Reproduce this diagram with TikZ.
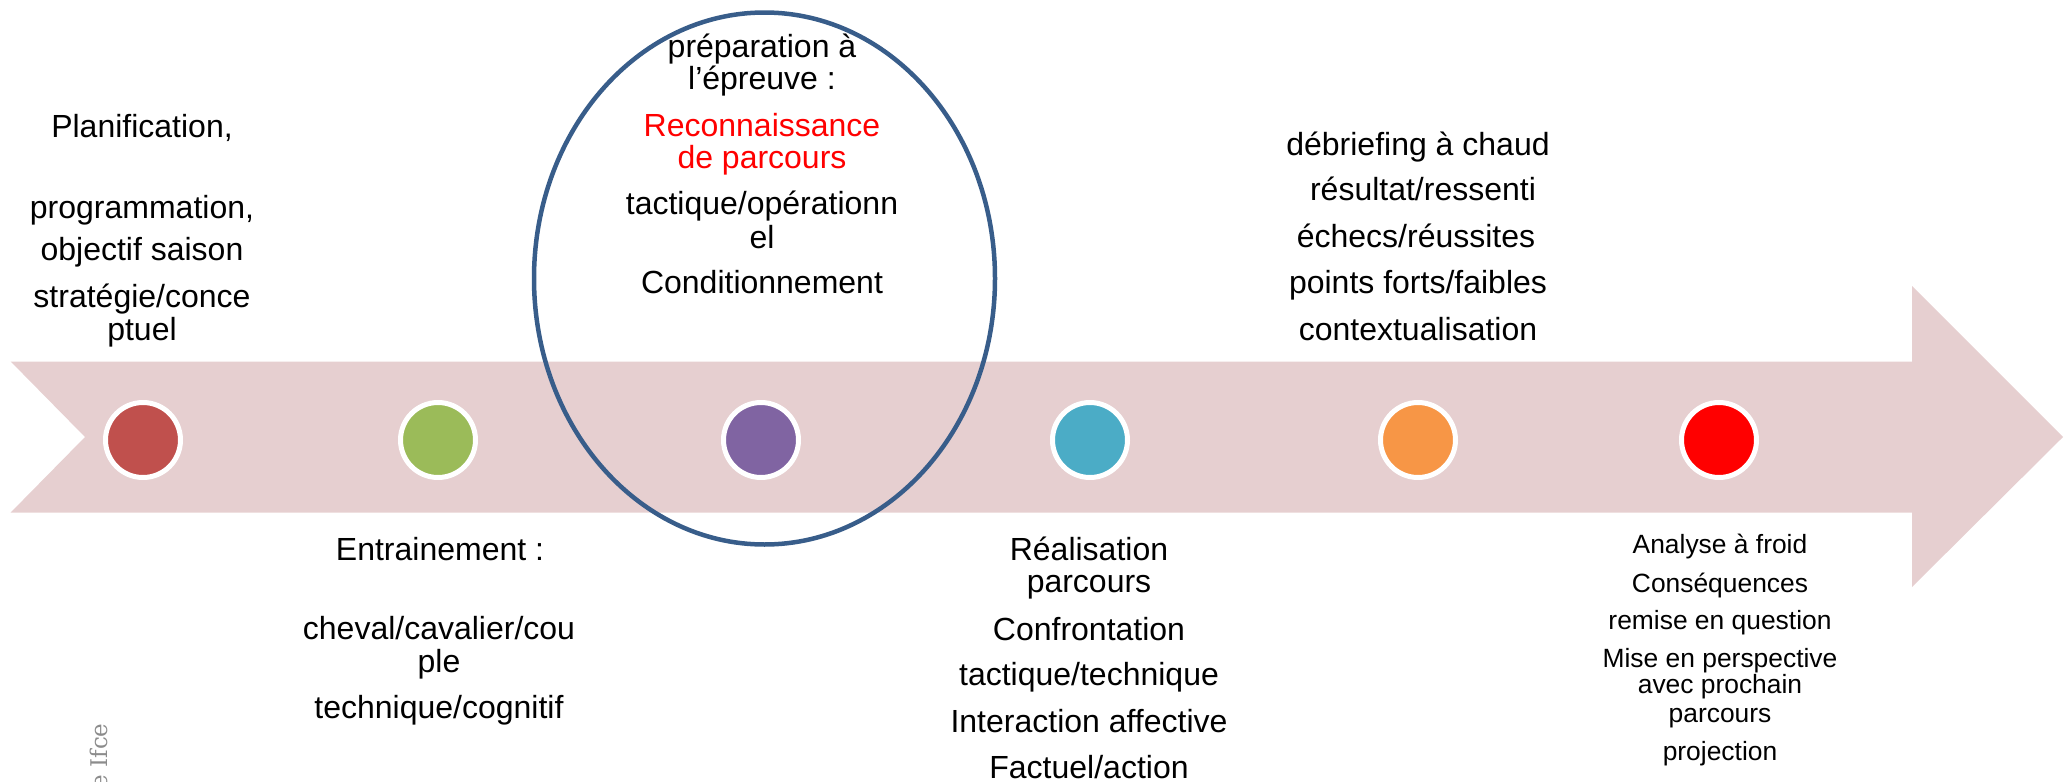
\documentclass[tikz,border=0pt]{standalone}
\usepackage{fontspec}
\setmainfont{Liberation Sans}
\newfontfamily\ifcefont{DejaVu Serif}
\usetikzlibrary{shapes.geometric}
\definecolor{bandc}{RGB}{230,207,208}
\definecolor{ellc}{RGB}{56,93,138}
\definecolor{dA}{HTML}{C0504D}
\definecolor{dB}{HTML}{9BBB59}
\definecolor{dC}{HTML}{8064A2}
\definecolor{dD}{HTML}{4BACC6}
\definecolor{dE}{HTML}{F79646}
\definecolor{dF}{HTML}{FF0000}
\definecolor{ifcec}{RGB}{140,140,140}
\begin{document}
\begin{tikzpicture}[x=0.5pt,y=-0.5pt,
  txt/.style={anchor=base, inner sep=0pt, font=\fontsize{16}{19}\selectfont},
  smalltxt/.style={anchor=base, inner sep=0pt, font=\fontsize{13.2}{16}\selectfont},
  dotnode/.style={circle, draw=white, line width=2.5pt, minimum size=37.5pt, inner sep=0pt},
  focusring/.style={ellipse, draw=ellc, line width=2.25pt, minimum width=230.5pt, minimum height=266pt, inner sep=0pt}]
\useasboundingbox (0,0) rectangle (2069,782);
\clip (0,0) rectangle (2069,782);
% band arrow
\fill[bandc] (10.7,361.5) -- (1912,361.5) -- (1912,286) -- (2063,437) -- (1912,587)
  -- (1912,512.5) -- (10.7,512.5) -- (85,437) -- cycle;
% focus ellipse
\node[focusring] (focus) at (764.5,278.5) {};
% dots
\node[dotnode, fill=dA] (d1) at (143,440) {};
\node[dotnode, fill=dB] (d2) at (438,440) {};
\node[dotnode, fill=dC] (d3) at (761,440) {};
\node[dotnode, fill=dD] (d4) at (1090,440) {};
\node[dotnode, fill=dE] (d5) at (1418,440) {};
\node[dotnode, fill=dF] (d6) at (1719,440) {};
% block 1
\node[txt] (a1) at (142,137) {Planification,};
\node[txt] (a2) at (142,218) {programmation,};
\node[txt] (a3) at (142,260) {objectif saison};
\node[txt] (a4) at (142,307) {stratégie/conce};
\node[txt] (a5) at (142,340) {ptuel};
% block 2
\node[txt] (b1) at (762,57) {préparation à};
\node[txt] (b2) at (762,89) {l’épreuve :};
\node[txt, text=red] (b3) at (762,136) {Reconnaissance};
\node[txt, text=red] (b4) at (762,168) {de parcours};
\node[txt] (b5) at (762,214) {tactique/opérationn};
\node[txt] (b6) at (762,248) {el};
\node[txt] (b7) at (762,293.5) {Conditionnement};
% block 3
\node[txt] (c1) at (1418,155) {débriefing à chaud};
\node[txt] (c2) at (1423,200.5) {résultat/ressenti};
\node[txt] (c3) at (1416,247.5) {échecs/réussites};
\node[txt] (c4) at (1418,293) {points forts/faibles};
\node[txt] (c5) at (1418,340) {contextualisation};
% block 4
\node[txt] (e1) at (440,560) {Entrainement :};
\node[txt] (e2) at (439,639.5) {cheval/cavalier/cou};
\node[txt] (e3) at (439,672) {ple};
\node[txt] (e4) at (439,718) {technique/cognitif};
% block 5
\node[txt] (f1) at (1089,560.5) {Réalisation};
\node[txt] (f2) at (1089,592) {parcours};
\node[txt] (f3) at (1089,640) {Confrontation};
\node[txt] (f4) at (1089,685) {tactique/technique};
\node[txt] (f5) at (1089,732) {Interaction affective};
\node[txt] (f6) at (1089,778) {Factuel/action};
% block 6
\node[smalltxt] (g1) at (1720,553) {Analyse à froid};
\node[smalltxt] (g2) at (1720,592) {Conséquences};
\node[smalltxt] (g3) at (1720,629.5) {remise en question};
\node[smalltxt] (g4) at (1720,667) {Mise en perspective};
\node[smalltxt] (g5) at (1720,693) {avec prochain};
\node[smalltxt] (g6) at (1720,722) {parcours};
\node[smalltxt] (g7) at (1720,760) {projection};
% side credit
\node[rotate=90, anchor=base east, inner sep=0pt, text=ifcec, font=\ifcefont\fontsize{11.5}{13}\selectfont] (ifce) at (107,723) {e Ifce};
\end{tikzpicture}
\end{document}
